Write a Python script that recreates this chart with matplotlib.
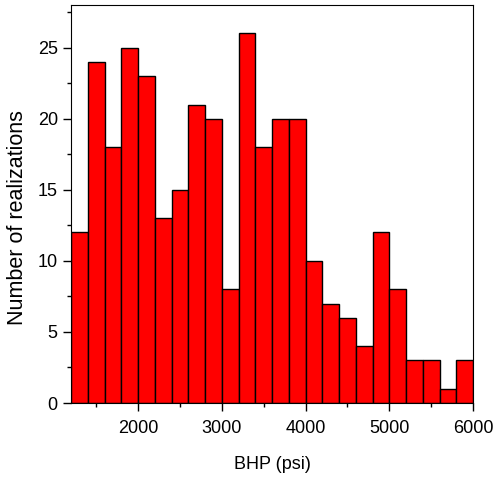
import matplotlib
matplotlib.use("Agg")
import matplotlib.pyplot as plt
from matplotlib.ticker import MultipleLocator

plt.rcParams['font.family'] = ['Liberation Sans', 'DejaVu Sans']

# histogram bins (psi) and counts
bin_edges = [1200 + 200 * i for i in range(25)]
counts = [12, 24, 18, 25, 23, 13, 15, 21, 20, 8, 26, 18,
          20, 20, 10, 7, 6, 4, 12, 8, 3, 3, 1, 3]

x_ticks = [2000, 3000, 4000, 5000, 6000]
y_ticks = [0, 5, 10, 15, 20, 25]

fig = plt.figure(figsize=(5.01, 4.79), dpi=100)
ax = fig.add_axes([71 / 501, 1 - 403 / 479, 402 / 501, 398 / 479])

ax.hist(bin_edges[:-1], bins=bin_edges, weights=counts,
        color='#ff0000', edgecolor='black', linewidth=1)

ax.set_xlim(1200, 6000)
ax.set_ylim(0, 28)
ax.set_xticks(x_ticks)
ax.set_yticks(y_ticks)
ax.xaxis.set_minor_locator(MultipleLocator(500))
ax.yaxis.set_minor_locator(MultipleLocator(2.5))
ax.tick_params(axis='both', which='major', direction='out', length=6, width=1,
               labelsize=13, top=False, right=False)
ax.tick_params(axis='x', which='major', pad=6)
ax.tick_params(axis='both', which='minor', direction='out', length=3, width=1,
               top=False, right=False)

ax.set_xlabel("BHP (psi)", fontsize=13, labelpad=14)
ax.set_ylabel("Number of realizations", fontsize=15.5)
ax.yaxis.set_label_coords(-0.108, 0.465)

fig.savefig("out.png", dpi=100)
